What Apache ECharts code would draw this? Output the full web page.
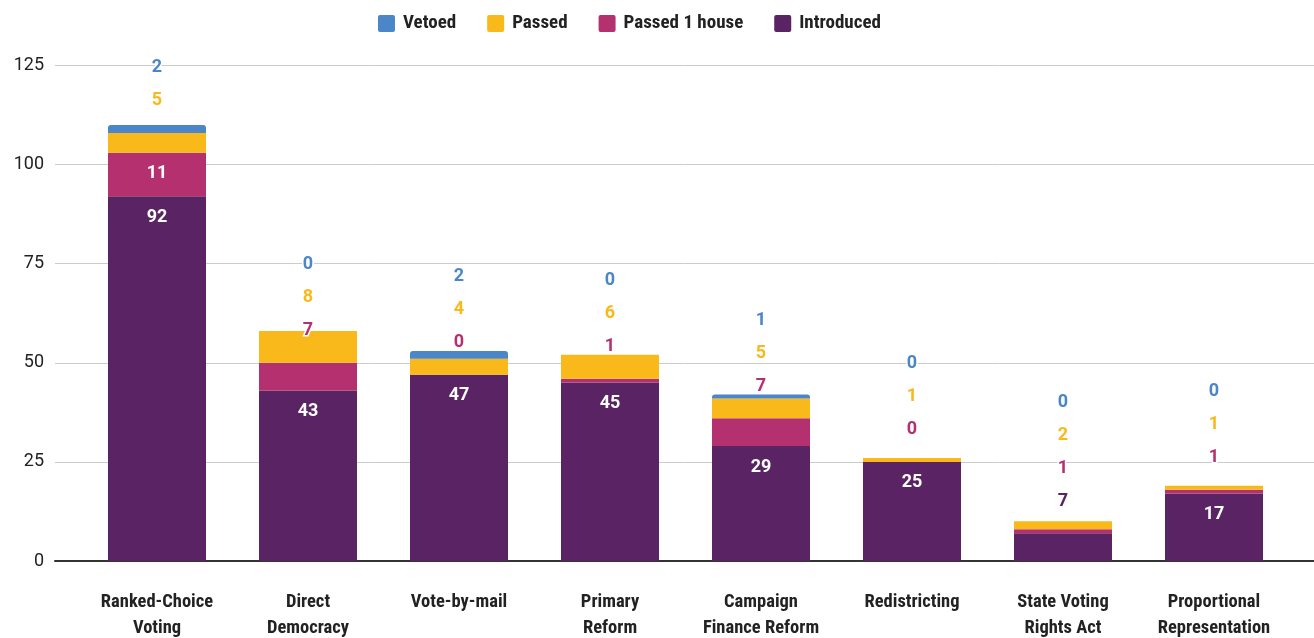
<!DOCTYPE html>
<html>
<head>
<meta charset="utf-8">
<script src="https://cdn.jsdelivr.net/npm/echarts@6/dist/echarts.min.js"></script>
<style>
html,body{margin:0;padding:0;background:#fff;}
#chart{width:1314px;height:638px;}
</style>
</head>
<body>
<div id="chart"></div>
<script>
const categories = ['Ranked-Choice\nVoting','Direct\nDemocracy','Vote-by-mail','Primary\nReform','Campaign\nFinance Reform','Redistricting','State Voting\nRights Act','Proportional\nRepresentation'];
const introduced = [92, 43, 47, 45, 29, 25, 7, 17];
const passedOneHouse = [11, 7, 0, 1, 7, 0, 1, 1];
const passed = [5, 8, 4, 6, 5, 1, 2, 1];
const vetoed = [2, 0, 2, 0, 1, 0, 0, 0];
const seriesNames = ['Introduced', 'Passed 1 house', 'Passed', 'Vetoed'];
const legendOrder = ['Vetoed', 'Passed', 'Passed 1 house', 'Introduced'];
const yMin = 0, yMax = 125, yInterval = 25;

const colors = ['#592364', '#b5306e', '#f9b91a', '#4a86c8'];
const stackData = [introduced, passedOneHouse, passed, vetoed];
const narrow = '"Liberation Sans Narrow", "Roboto Condensed", "DejaVu Sans Condensed", sans-serif';

const chart = echarts.init(document.getElementById('chart'));
const gridTop = 65.5, gridBottom = 77;

const option = {
  animation: false,
  legend: {
    data: legendOrder,
    left: 373,
    top: 9,
    icon: 'path://M2,0 H15 A2,2 0 0 1 17,2 V15 A2,2 0 0 1 15,17 H2 A2,2 0 0 1 0,15 V2 A2,2 0 0 1 2,0 Z',
    itemWidth: 17,
    itemHeight: 17,
    itemGap: 31,
    textStyle: { fontFamily: narrow, fontSize: 19, fontWeight: 'bold', color: '#222', padding: [0, 0, 0, 3] }
  },
  grid: [
    { left: 81.5, right: 24.5, top: gridTop, bottom: gridBottom, containLabel: false, outerBoundsMode: 'none' },
    { left: 55, right: 0, top: gridTop, bottom: gridBottom, containLabel: false, outerBoundsMode: 'none' }
  ],
  xAxis: [
    {
      type: 'category', gridIndex: 0, data: categories,
      axisLine: { show: false }, axisTick: { show: false },
      axisLabel: { interval: 0, margin: 28, fontFamily: narrow, fontSize: 18.5, fontWeight: 'bold', color: '#222', lineHeight: 26 }
    },
    {
      type: 'value', gridIndex: 1, min: 0, max: 1, show: true,
      axisLine: { show: true, onZero: false, lineStyle: { color: '#333', width: 2 } },
      axisTick: { show: false }, axisLabel: { show: false }, splitLine: { show: false }
    }
  ],
  yAxis: [
    {
      type: 'value', gridIndex: 0, min: yMin, max: yMax, interval: yInterval,
      axisLine: { show: false }, axisTick: { show: false }, axisLabel: { show: false }, splitLine: { show: false }
    },
    {
      type: 'value', gridIndex: 1, min: yMin, max: yMax, interval: yInterval,
      axisLine: { show: false }, axisTick: { show: false },
      axisLabel: { margin: 11, fontFamily: 'Roboto', fontSize: 18, color: '#222' },
      splitLine: { show: true, lineStyle: { color: '#cccccc', width: 1 } }
    }
  ],
  series: seriesNames.map((name, s) => ({
    name: name,
    type: 'bar',
    stack: 'total',
    xAxisIndex: 0,
    yAxisIndex: 0,
    barWidth: 98,
    z: 3,
    itemStyle: { color: colors[s], borderRadius: s === 3 ? [3, 3, 0, 0] : 0 },
    label: {
      show: true,
      fontFamily: 'Roboto',
      fontWeight: 'bold',
      fontSize: 18,
      align: 'center',
      verticalAlign: 'middle'
    },
    data: stackData[s]
  }))
};
chart.setOption(option);

function layoutLabels() {
  const out = stackData.map(() => []);
  categories.forEach((c, i) => {
    let cum = 0;
    let prev = Infinity;
    stackData.forEach((arr, s) => {
      const base = cum;
      cum += arr[i];
      const yBase = chart.convertToPixel({ gridIndex: 0 }, [i, base])[1];
      const yTop = chart.convertToPixel({ gridIndex: 0 }, [i, cum])[1];
      const h = yBase - yTop;
      let ly, inside;
      if (h >= 36) { ly = yTop + 21; inside = true; }
      else { ly = yTop - 32; inside = false; }
      if (prev - ly < 33) ly = prev - 33;
      prev = ly;
      out[s].push({
        value: arr[i],
        label: {
          position: ['50%', ly - yTop],
          color: inside ? '#ffffff' : colors[s],
          textBorderColor: '#ffffff',
          textBorderWidth: inside ? 0 : 3
        }
      });
    });
  });
  chart.setOption({ series: out.map(d => ({ data: d })) });
}
layoutLabels();
</script>
</body>
</html>
